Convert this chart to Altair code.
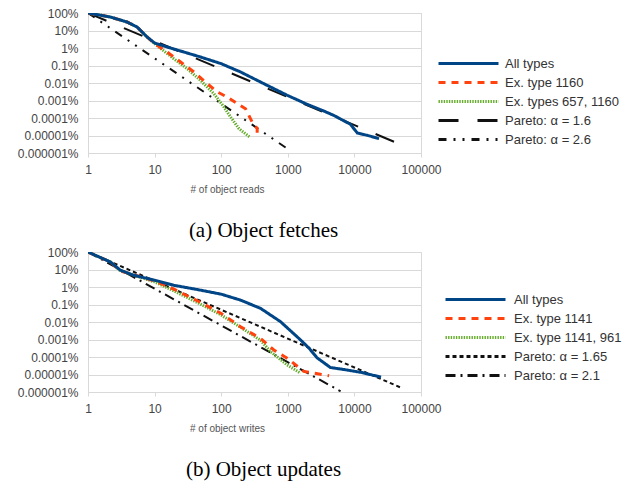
import altair as alt
import pandas as pd

X_TICKS = [1, 10, 100, 1000, 10000, 100000]
Y_TICKS = [100, 10, 1, 0.1, 0.01, 0.001, 0.0001, 0.00001, 0.000001]
Y_LABELS = ["100%", "10%", "1%", "0.1%", "0.01%", "0.001%", "0.0001%", "0.00001%", "0.000001%"]

# ---------- panel (a): object fetches ----------
A_NAMES = ["All types", "Ex. type 1160", "Ex. types 657, 1160", "Pareto: α = 1.6", "Pareto: α = 2.6"]
A_ALL_X = [1, 2.17, 3.85, 5.46, 7.71, 10, 15.4, 27.5, 48.9, 100, 195, 437, 977, 1950, 3467, 4900, 8710, 11090, 15670, 23440]
A_ALL_Y = [100, 58.9, 30.6, 15.8, 4.26, 1.93, 1.14, 0.59, 0.306, 0.127, 0.0427, 0.00912, 0.002, 0.000603, 0.000251,
           0.000141, 0.0000437, 0.0000138, 0.0000102, 0.0000066]
A_EX1_X = [1, 2.17, 3.85, 5.46, 7.71, 10, 15.4, 24.5, 38.9, 61.7, 87.1, 123, 174, 232, 292, 347, 347]
A_EX1_Y = [100, 58.9, 30.6, 15.8, 4.26, 1.78, 0.59, 0.158, 0.0427, 0.00912, 0.00309, 0.00158, 0.00066, 0.000339,
           0.0000589, 0.0000251, 0.0000126]
A_EX2_X = [1, 2.17, 3.85, 5.46, 7.71, 10, 19.4, 30.8, 48.9, 77.6, 110, 138, 185, 269]
A_EX2_Y = [100, 58.9, 30.6, 15.8, 4.26, 1.78, 0.245, 0.0661, 0.0141, 0.00245, 0.000427, 0.000115, 0.0000245, 0.0000081]
A_P1_X = [1, 56000]
A_P1_Y = [100, 0.0000025]
A_P2_X = [1, 1000]
A_P2_Y = [100, 0.0000017]

# ---------- panel (b): object updates ----------
B_NAMES = ["All types", "Ex. type 1141", "Ex. type 1141, 961", "Pareto: α = 1.65", "Pareto: α = 2.1"]
B_ALL_X = [1, 2.17, 3.06, 4.86, 10, 19.4, 48.9, 100, 195, 389, 776, 1549, 2089, 2754, 4365, 7079, 12590, 25120]
B_ALL_Y = [100, 26.9, 9.12, 4.68, 2.45, 1.26, 0.661, 0.389, 0.178, 0.0603, 0.0105, 0.000955, 0.000316, 0.0000891,
           0.0000251, 0.0000191, 0.0000132, 0.0000071]
B_EX1_X = [1, 2.17, 3.06, 10, 19.4, 48.9, 100, 195, 389, 617, 977, 1738, 4169]
B_EX1_Y = [100, 26.9, 8.32, 2.24, 0.759, 0.132, 0.0309, 0.00537, 0.00115, 0.000251, 0.0000851, 0.0000151, 0.0000085]
B_EX2_X = [1, 2.17, 3.06, 10, 19.4, 48.9, 100, 195, 389, 550, 977, 1549]
B_EX2_Y = [100, 26.9, 8.32, 1.95, 0.603, 0.105, 0.0251, 0.00501, 0.000912, 0.000204, 0.0000355, 0.000012]
B_P1_X = [1, 52000]
B_P1_Y = [100, 0.00000166]
B_P2_X = [1, 6200]
B_P2_Y = [100, 0.0000011]

COLORS = ["#004586", "#ff420e", "#65ad2b", "#111111", "#111111"]
WIDTHS = [3, 3, 3, 2, 2]
A_DASHES = [[1, 0], [7, 6], [1.4, 1.2], [20, 19], [8, 7, 2, 7, 2, 7]]
B_DASHES = [[1, 0], [7, 6], [1.4, 1.2], [4, 3], [10, 5, 2, 5]]

GRID = "#d9d9d9"
SANS = "Liberation Sans"

label_expr = ""
for t, lab in zip(Y_TICKS, Y_LABELS):
    label_expr += f"datum.value > {t * 0.5} ? '{lab}' : "
label_expr += "''"


def build_df(names, xs, ys):
    rows = []
    # draw order: Pareto lines first, then green, red, blue on top
    for i in [3, 4, 2, 1, 0]:
        for xv, yv in zip(xs[i], ys[i]):
            rows.append({"series": names[i], "x": xv, "y": yv, "w": WIDTHS[i]})
    return pd.DataFrame(rows)


def panel(names, xs, ys, dashes, xtitle, caption, lx, ly, loff):
    df = build_df(names, xs, ys)
    leg = alt.Legend(
        title=None, orient="none", legendX=lx, legendY=ly,
        symbolType="stroke", symbolSize=3600, symbolStrokeWidth=3, clipHeight=13,
        rowPadding=5, labelOffset=loff, labelFont=SANS, labelFontSize=13, labelColor="#333333",
    )
    return alt.Chart(df).mark_line(clip=True, strokeCap="butt").encode(
        x=alt.X("x:Q",
                scale=alt.Scale(type="log", domain=[1, 100000], nice=False),
                axis=alt.Axis(values=X_TICKS, format="d", grid=False, domainColor=GRID, tickColor=GRID,
                              tickSize=4, labelPadding=7, labelFlush=False, labelFont=SANS, labelFontSize=12,
                              labelColor="#444444",
                              title=xtitle, titleFont=SANS, titleFontSize=10, titleFontWeight="normal",
                              titleColor="#555555", titlePadding=9, titleX=139)),
        y=alt.Y("y:Q",
                scale=alt.Scale(type="log", domain=[0.000001, 100], nice=False),
                axis=alt.Axis(values=Y_TICKS, labelExpr=label_expr, grid=True, gridColor=GRID, domainColor=GRID,
                              ticks=False, labelPadding=10, labelFont=SANS, labelFontSize=12,
                              labelColor="#444444", title=None)),
        color=alt.Color("series:N", scale=alt.Scale(domain=names, range=COLORS), legend=leg),
        strokeDash=alt.StrokeDash("series:N", scale=alt.Scale(domain=names, range=dashes), legend=leg),
        strokeWidth=alt.StrokeWidth("w:Q", scale=None),
    ).properties(
        width=333, height=140,
        title=alt.TitleParams(caption, orient="bottom", anchor="middle", font="Liberation Serif", fontSize=21,
                              fontWeight="normal", color="#000000", offset=26, dx=9),
    )


top = panel(A_NAMES, [A_ALL_X, A_EX1_X, A_EX2_X, A_P1_X, A_P2_X], [A_ALL_Y, A_EX1_Y, A_EX2_Y, A_P1_Y, A_P2_Y],
            A_DASHES, "# of object reads", "(a) Object fetches", 349, 44, 5)
bottom = panel(B_NAMES, [B_ALL_X, B_EX1_X, B_EX2_X, B_P1_X, B_P2_X], [B_ALL_Y, B_EX1_Y, B_EX2_Y, B_P1_Y, B_P2_Y],
               B_DASHES, "# of object writes", "(b) Object updates", 356, 41, 7)

chart = alt.vconcat(top, bottom, spacing=3).resolve_scale(
    color="independent", strokeDash="independent"
).resolve_legend(
    color="independent", strokeDash="independent"
).properties(
    padding={"left": 16, "top": 6, "right": 5, "bottom": 5}, background="white"
).configure_view(stroke=GRID, strokeWidth=1)

chart.save("out.html", embed_options={"renderer": "svg", "actions": False})
